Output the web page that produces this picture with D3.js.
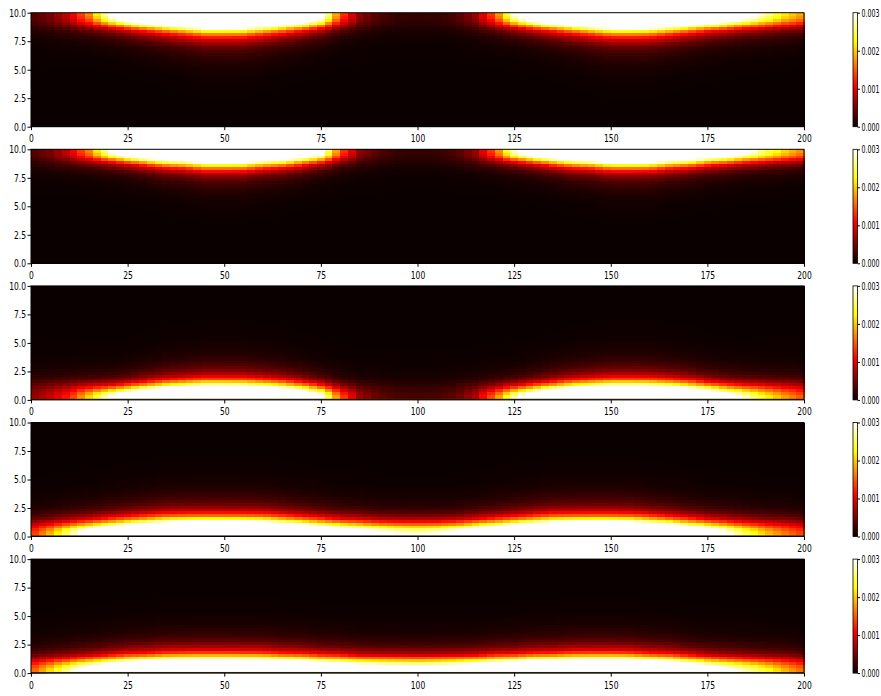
<!DOCTYPE html>
<html><head><meta charset="utf-8">
<script src="https://cdn.jsdelivr.net/npm/d3@7"></script>
<style>
body{margin:0;background:#fff;}
text{font-family:"DejaVu Sans",sans-serif;}
</style></head>
<body>
<svg id="chart" width="881" height="696"></svg>
<script>
// ---------- data ----------
const xSamples = [0,5,10,15,20,25,30,35,40,45,50,55,60,65,70,75,80,85,90,95,100,105,110,115,120,125,130,135,140,145,150,155,160,165,170,175,180,185,190,195,200];
// wall value (x 1e-3) along x for each panel
const peakP1 = [0.3,0.5,0.9,1.7,3.0,4.0,4.6,5.0,5.3,5.5,5.5,5.4,5.2,4.8,4.3,3.4,1.5,0.6,0.3,0.2,0.18,0.2,0.3,0.65,1.5,3.0,4.0,4.6,5.0,5.3,5.5,5.5,5.4,5.2,4.9,4.5,4.0,3.4,2.8,2.2,1.8];
const peakP2 = [0.3,0.5,0.9,1.7,2.9,3.8,4.4,4.8,5.0,5.2,5.2,5.1,4.9,4.6,4.1,3.3,1.5,0.6,0.3,0.2,0.18,0.2,0.3,0.65,1.5,2.9,3.8,4.4,4.8,5.0,5.2,5.2,5.1,4.9,4.6,4.2,3.8,3.2,2.6,2.1,1.7];
const peakP3 = [0.6,0.9,1.3,2.2,3.2,4.0,4.6,5.0,5.3,5.5,5.5,5.4,5.2,4.8,4.3,3.4,1.6,0.7,0.4,0.3,0.28,0.3,0.4,0.8,1.7,3.0,4.0,4.6,5.0,5.3,5.5,5.5,5.4,5.2,4.8,4.3,3.6,3.0,2.4,1.9,1.5];
const peakP4 = [1.3,2.0,2.8,3.6,4.3,4.9,5.4,5.8,6.1,6.2,6.2,6.1,5.9,5.5,5.0,4.5,4.0,3.6,3.3,3.1,3.0,3.1,3.4,3.9,4.4,4.9,5.4,5.8,6.0,6.1,6.1,5.9,5.6,5.1,4.5,3.9,3.2,2.6,2.1,1.7,1.4];
const peakP5 = [1.5,2.2,2.9,3.6,4.2,4.7,5.1,5.4,5.6,5.7,5.7,5.6,5.5,5.3,5.0,4.7,4.4,4.1,3.9,3.8,3.7,3.8,4.0,4.3,4.7,5.0,5.3,5.5,5.6,5.7,5.7,5.5,5.2,4.8,4.3,3.8,3.3,2.9,2.5,2.0,1.6];
// band thickness scale along x for each panel
const widthP1 = [1.45,1.4,1.3,1.2,1.15,1.2,1.3,1.4,1.5,1.6,1.6,1.6,1.5,1.4,1.3,1.2,1.2,1.3,1.4,1.45,1.45,1.45,1.4,1.3,1.2,1.15,1.2,1.3,1.4,1.5,1.6,1.6,1.6,1.5,1.4,1.3,1.25,1.2,1.2,1.2,1.2];
const widthP2 = [1.3,1.25,1.15,1.05,1.0,1.05,1.15,1.25,1.3,1.4,1.4,1.4,1.3,1.25,1.15,1.05,1.05,1.15,1.25,1.3,1.3,1.3,1.25,1.15,1.05,1.0,1.05,1.15,1.25,1.3,1.4,1.4,1.4,1.3,1.25,1.15,1.1,1.05,1.05,1.05,1.05];
const widthP3 = [1.6,1.5,1.4,1.25,1.15,1.2,1.3,1.4,1.45,1.5,1.5,1.5,1.45,1.4,1.3,1.2,1.2,1.3,1.45,1.5,1.5,1.5,1.45,1.3,1.2,1.15,1.2,1.3,1.4,1.45,1.5,1.5,1.5,1.45,1.4,1.3,1.25,1.25,1.3,1.35,1.4];
const widthP4 = [1.35,1.3,1.3,1.3,1.35,1.4,1.45,1.5,1.5,1.5,1.5,1.5,1.5,1.45,1.4,1.35,1.3,1.3,1.25,1.25,1.25,1.25,1.25,1.3,1.35,1.4,1.45,1.5,1.5,1.5,1.5,1.5,1.45,1.4,1.35,1.3,1.3,1.3,1.3,1.35,1.35];
const widthP5 = [1.35,1.3,1.3,1.3,1.35,1.4,1.4,1.45,1.45,1.45,1.45,1.45,1.45,1.4,1.4,1.35,1.35,1.3,1.3,1.3,1.3,1.3,1.3,1.3,1.35,1.35,1.4,1.4,1.45,1.45,1.45,1.45,1.4,1.4,1.35,1.3,1.3,1.3,1.3,1.35,1.35];
const wallSide = ["top","top","bottom","bottom","bottom"];
// decay of the value away from the wall (depth / thickness -> fraction of wall value)
const depthT = [0,0.25,0.5,0.75,1.0,1.25,1.5,1.75,2.0,2.25,2.5,2.75,3.0,3.25,3.5,3.75,4.0,4.5,5.0];
const depthShape = [1.0,0.96,0.84,0.64,0.42,0.25,0.15,0.095,0.062,0.042,0.029,0.02,0.014,0.0095,0.0065,0.0043,0.0028,0.0012,0];
// ticks
const xTicks = [0,25,50,75,100,125,150,175,200];
const yTicks = [0,2.5,5,7.5,10];
const cbTicks = [0,0.001,0.002,0.003];
const nCols = 100, nRows = 40;

const panels = [
  {peak: peakP1, width: widthP1, wall: wallSide[0]},
  {peak: peakP2, width: widthP2, wall: wallSide[1]},
  {peak: peakP3, width: widthP3, wall: wallSide[2]},
  {peak: peakP4, width: widthP4, wall: wallSide[3]},
  {peak: peakP5, width: widthP5, wall: wallSide[4]}
];

// ---------- colour map (matplotlib "hot") ----------
function hot(f){
  f = Math.max(0, Math.min(1, f));
  const r = Math.min(1, 0.0416 + (1-0.0416)*f/0.365079);
  const g = Math.max(0, Math.min(1, (f-0.365079)/(0.746032-0.365079)));
  const b = Math.max(0, Math.min(1, (f-0.746032)/(1-0.746032)));
  return d3.rgb(r*255, g*255, b*255).formatHex();
}
const color = d3.scaleSequential(hot).domain([0, 0.003]).clamp(true);

// ---------- layout ----------
const svg = d3.select("#chart");
const left = 31, right = 804, panelH = 114, top0 = 12.7, step = 136.6;
const cbX = 853, cbW = 4.5;
const sx = 0.72; // narrow text
const lookX = d3.scaleLinear().domain(xSamples).range(d3.range(xSamples.length));
function atX(arr, x){
  const i = lookX(x), i0 = Math.max(0, Math.min(arr.length-2, Math.floor(i))), t = i - i0;
  return arr[i0]*(1-t) + arr[i0+1]*t;
}
const shapeScale = d3.scaleLinear().domain(depthT).range(depthShape).clamp(true);

panels.forEach((p, k) => {
  const top = top0 + k*step;
  const x = d3.scaleLinear().domain([0,200]).range([left, right]);
  const y = d3.scaleLinear().domain([0,10]).range([top + panelH, top]);
  const g = svg.append("g");
  const cells = [];
  const dx = 200/nCols, dy = 10/nRows;
  for (let i = 0; i < nCols; i++){
    const xc = (i+0.5)*dx;
    const pk = atX(p.peak, xc)*1e-3, w = atX(p.width, xc);
    for (let j = 0; j < nRows; j++){
      const yc = (j+0.5)*dy;
      const d = p.wall === "top" ? 10 - yc : yc;
      cells.push({x0: i*dx, x1: (i+1)*dx, y0: j*dy, y1: (j+1)*dy, v: pk*shapeScale(d/w)});
    }
  }
  g.selectAll("rect.cell").data(cells).join("rect")
    .attr("class","cell")
    .attr("x", d => x(d.x0)).attr("width", d => x(d.x1)-x(d.x0)+0.5)
    .attr("y", d => y(d.y1)).attr("height", d => y(d.y0)-y(d.y1)+0.5)
    .attr("fill", d => color(d.v))
    .attr("shape-rendering","crispEdges");
  if (p.wall === "bottom"){
    g.append("rect").attr("x", left).attr("width", right-left)
      .attr("y", y(0.1)).attr("height", y(0)-y(0.1)).attr("fill", "#3a3000");
  }
  // frame
  g.append("rect").attr("x", left).attr("y", top).attr("width", right-left).attr("height", panelH)
    .attr("fill","none").attr("stroke","#000").attr("stroke-width",1);
  // axes
  const ax = g.append("g").attr("transform", `translate(0,${top+panelH})`)
    .call(d3.axisBottom(x).tickValues(xTicks).tickFormat(d3.format("d")).tickSize(3.5).tickPadding(4.5));
  const ay = g.append("g").attr("transform", `translate(${left},0)`)
    .call(d3.axisLeft(y).tickValues(yTicks).tickFormat(d3.format(".1f")).tickSize(3.5).tickPadding(1.5));
  [ax, ay].forEach(a => { a.select(".domain").remove(); a.selectAll("line").attr("stroke","#000"); });
  ax.selectAll("text").attr("font-size", 10.5).attr("fill","#000").attr("transform", `scale(${sx},1)`);
  ay.selectAll("text").attr("font-size", 10.5).attr("fill","#000")
    .attr("x", -5/sx).attr("transform", `scale(${sx},1)`);
  // colorbar
  const cy = d3.scaleLinear().domain([0,0.003]).range([top+panelH, top]);
  const gid = "cbgrad" + k;
  const grad = svg.append("defs").append("linearGradient").attr("id", gid)
    .attr("x1",0).attr("y1",1).attr("x2",0).attr("y2",0);
  d3.range(0, 1.0001, 0.02).forEach(f => grad.append("stop").attr("offset", f).attr("stop-color", color(f*0.003)));
  g.append("rect").attr("x", cbX).attr("y", top).attr("width", cbW).attr("height", panelH)
    .attr("fill", `url(#${gid})`).attr("stroke","#000").attr("stroke-width",0.8);
  const ac = g.append("g").attr("transform", `translate(${cbX+cbW},0)`)
    .call(d3.axisRight(cy).tickValues(cbTicks).tickFormat(d3.format(".3f")).tickSize(2.5).tickPadding(1.5));
  ac.select(".domain").remove();
  ac.selectAll("line").attr("stroke","#000");
  ac.selectAll("text").attr("font-size", 10.5).attr("fill","#000")
    .attr("x", 4/0.6).attr("transform", `scale(0.6,1)`);
});
</script>
</body></html>
